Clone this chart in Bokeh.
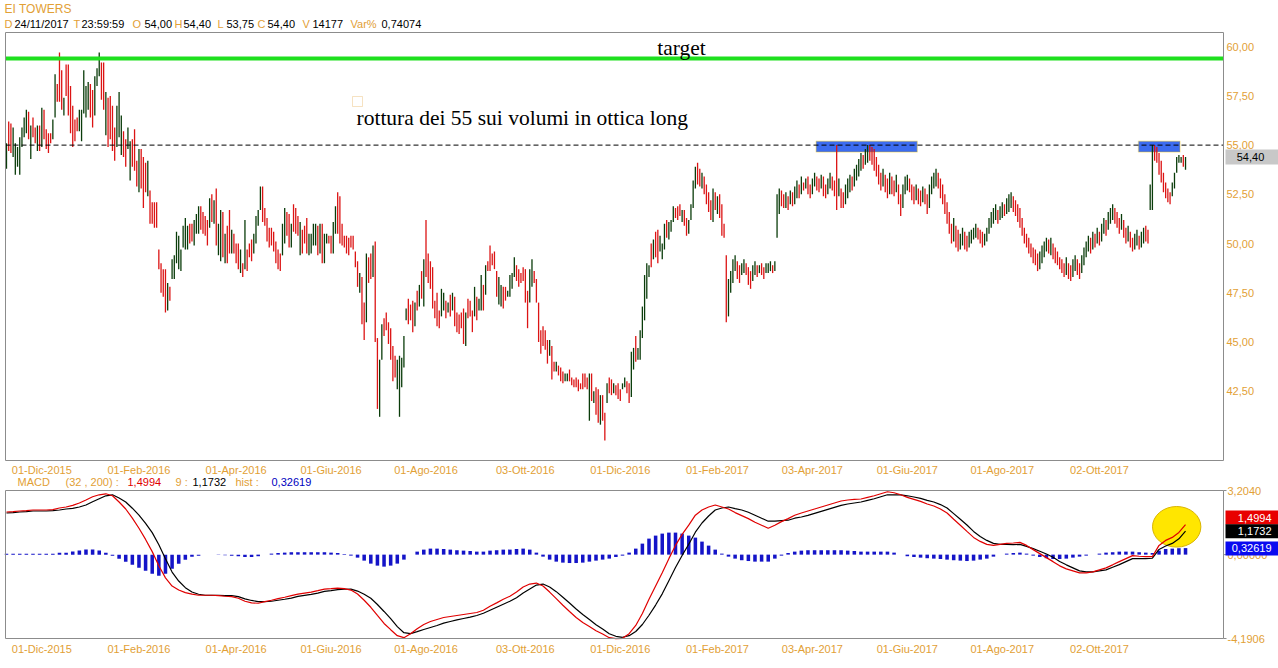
import numpy as np
import pandas as pd
from bokeh.plotting import figure
from bokeh.layouts import column
from bokeh.models import ColumnDataSource, Label, BoxAnnotation, Range1d
from bokeh.core.properties import value
from bokeh.embed import file_html
from bokeh.resources import INLINE

# ---------------- header values ----------------
SYMBOL = "EI TOWERS"
LAST_DATE = "24/11/2017"
LAST_TIME = "23:59:59"
LAST_OPEN, LAST_HIGH, LAST_LOW, LAST_CLOSE = 54.00, 54.40, 53.75, 54.40
LAST_VOLUME = 14177
LAST_VAR_PCT = 0.74074

TARGET_LEVEL = 59.4
BREAKOUT_LEVEL = 55.0
ZONE_BOTTOM, ZONE_TOP = 54.65, 55.2
blue_zones = [("2017-04-05", "2017-06-07"), ("2017-10-26", "2017-11-21")]

# ---------------- daily bars (high / low / direction R=down G=up) ----------------
high_1 = [55.1,56.2,56.1,55.9,55.1,54.9,55.4,55.9,56.4,56.8,
          56.7,56.0,56.4,55.9,56.0,56.0,56.9,56.8,55.8,55.6,
          55.6,56.3,58.6,58.1,59.7,58.8,57.4,59.1,59.1,58.0,
          57.0,56.3,56.4,56.8,56.8,58.8,58.0,58.2,58.1,57.8,
          58.5,58.9,59.7,59.2,59.2,57.7,57.4,57.5,57.0,55.9,
          57.0,57.7,56.5,55.7,55.3,55.9,55.2,55.3,55.8,54.2,
          54.8,54.8,54.4,54.1,54.2,52.7,52.1,52.1,52.1,49.7,
          49.0,48.7,48.7,48.0,47.8,49.2,49.4,50.6,50.4,49.7,
          50.9]
low_1 = [53.8,54.7,54.6,54.4,53.5,53.9,53.5,54.9,55.4,55.6,
         55.3,54.3,55.4,55.1,54.7,54.7,54.9,55.3,54.8,54.6,
         55.1,55.3,56.4,57.2,57.2,56.8,56.5,57.5,56.5,55.6,
         54.9,55.2,55.7,55.7,55.2,56.6,56.4,56.8,56.4,55.9,
         56.5,58.0,58.5,57.3,56.8,55.5,54.9,55.3,54.7,54.2,
         54.9,55.4,54.5,54.4,53.9,54.8,53.2,53.9,53.7,52.9,
         52.6,52.8,51.8,52.6,52.4,51.0,51.0,50.8,50.8,48.7,
         47.5,47.3,46.5,46.6,47.1,48.2,48.2,49.0,48.7,48.6,
         49.8]
dir_1 = "GRRGGGGGGG" "RGRRGRGRRR" "RGGRRRGRRR" "RRRGGGGGRR" "GGGRRGRRRR" \
        "GGGRRGGRRR" "GRRRGRRRRR" "RRRGRGGGGG" "G"

high_2 = [51.3,50.9,51.0,51.0,51.2,51.5,51.9,51.9,51.6,51.4,
          51.2,52.3,52.5,52.2,52.8,51.0,51.7,51.6,50.5,50.9,
          51.7,50.7,50.5,50.0,50.0,49.7,49.0,51.2,49.7,50.0,
          50.2,50.5,51.4,51.7,52.9,52.9,51.8,51.3,50.8,50.8,
          50.6,50.1,49.7,49.5,51.0,51.8,51.6,51.5,51.0,52.0,
          51.8,51.4,51.1,50.7,50.9,51.3,50.5,50.5,51.0,51.0,
          50.9,51.0,51.0,50.5,50.5,50.4,50.4,51.1,51.9,52.6,
          52.4,51.0]
low_2 = [49.7,49.7,50.0,50.1,49.9,50.5,50.5,50.7,50.5,50.4,
         49.9,50.8,51.1,51.0,49.9,49.4,49.1,49.3,49.0,49.0,
         49.5,49.5,49.5,49.0,48.7,48.5,48.3,48.7,48.6,49.3,
         49.1,49.5,50.0,50.9,51.7,51.1,50.9,50.1,49.8,49.9,
         49.6,49.0,48.7,48.6,49.4,50.0,50.4,49.8,49.8,50.6,
         50.5,50.4,49.4,49.5,50.0,49.5,49.4,49.5,49.9,49.9,
         49.4,49.5,49.0,49.0,50.0,50.0,49.5,49.5,50.5,50.5,
         50.0,49.9]
dir_2 = "GGRRGGGRRR" "RGRGRGGRGR" "RGRRRGRGRR" "RGGGGRRRRR" "RRRRGGRRGR" \
        "RRGRRRGGGG" "RGRGGRRGGR" "RR"

high_3 = [50.4,50.4,50.3,50.4,50.4,49.6,49.1,48.5,48.3,47.0,
          49.5,49.3,49.5,49.9,50.1,45.2,44.1,45.9,46.2,46.5,
          46.0,45.7,44.8,44.3,44.1,44.3,44.2,45.3,46.7,47.2,
          46.9,47.1,47.0,47.6,47.9,48.6,49.2,51.2,49.5,49.1,
          48.8,47.1,47.5,46.6,47.7,47.5,47.1,47.0,47.4,47.5,
          47.3,46.5,46.4,46.5,46.7,46.5,47.2,47.1,46.6,47.8,
          47.3,47.2,48.4,47.9,48.9,49.1,49.9,49.5,49.6,48.6,
          48.3,47.9,47.8,47.8,47.6,48.4]
low_3 = [49.8,49.5,49.4,49.8,49.7,48.8,47.8,47.5,45.9,45.1,
         46.0,48.0,48.2,48.3,45.0,41.6,41.2,44.1,45.3,45.6,
         44.9,44.1,43.0,43.2,42.6,41.2,42.7,43.7,46.1,45.9,
         46.1,45.5,45.8,46.6,46.8,47.2,46.8,48.3,48.0,47.7,
         46.7,46.2,45.8,45.7,46.3,46.6,46.2,46.5,46.3,46.6,
         45.8,45.5,45.4,45.7,44.9,44.8,46.2,46.3,45.5,46.3,
         46.1,46.6,46.6,46.6,47.4,48.6,48.6,48.9,48.7,47.3,
         46.9,46.8,46.7,47.1,47.3,47.3]
dir_3 = "RRRRRRRGRR" "GRRGRRGGRR" "RRRRGGGGGR" "RRGRGRGRRR" "RRRRGGRGRG" \
        "RRRRRGRRRG" "RGGRGRRRRR" "GGRRGG"

high_4 = [48.5,49.3,48.9,48.7,48.5,48.8,48.7,47.6,48.7,49.2,
          48.6,48.2,47.0,45.6,45.8,45.6,45.1,45.1,44.8,44.0,
          44.0,43.8,43.7,43.5,43.4,43.4,43.6,43.2,43.1,43.2,
          43.1,42.9,43.4,43.4,43.2,43.4,43.4,42.5,42.7,42.6,
          42.3,42.3,41.4,42.9,43.2,43.1,42.9,42.8,42.9,42.6,
          42.9,43.2,43.0,42.9,44.5,44.7,45.3,44.7,45.6,46.8,
          48.4,49.0,48.9,50.0,50.2,50.6,50.7,50.4,50.0,51.0,
          51.2,51.1,51.2,51.9,51.8,51.9,52.0,51.7,51.7,51.3,
          51.2]
low_4 = [47.7,48.3,48.1,47.8,48.0,48.1,47.0,45.7,47.0,47.8,
         48.0,47.0,45.0,44.4,44.8,44.6,43.9,44.3,43.1,43.5,
         43.5,43.3,43.0,42.9,43.0,43.0,43.0,42.8,42.7,42.7,
         42.5,42.6,42.6,42.7,42.6,41.0,42.0,41.9,41.3,40.9,
         40.8,41.0,40.0,41.9,42.4,42.3,42.4,42.3,42.1,42.0,
         42.6,42.7,42.4,41.9,42.2,43.6,44.0,44.1,44.1,45.2,
         46.1,47.2,48.3,48.8,49.2,49.3,49.0,49.6,49.2,49.7,
         50.3,50.2,50.6,51.1,51.3,51.2,51.4,51.1,50.9,50.4,
         50.5]
dir_4 = "GGRRRRRRGG" "RRRRRRRGRR" "GRRRGGRRRR" "RRRRRGRGRR" "GRRGRRGRRR" \
        "GGRRGGRGGG" "GGGRGRRGGG" "RGGGRRRGRR" "G"

high_5 = [52.0,53.2,53.9,54.1,53.8,53.6,53.4,53.0,52.6,52.2,
          52.8,52.6,52.4,52.5,52.0,51.0,49.4,48.2,48.6,49.2,
          49.4,49.1,48.9,49.0,49.2,49.0,48.8,48.6,48.9,49.1,
          48.9,48.9,49.0,48.8,49.0,49.0,49.1,48.9,49.1,52.5,
          52.8,52.7,52.5,52.6,52.4,52.7,52.6,52.9,53.2,53.0,
          53.4,53.1,53.3,53.4,53.0,53.3,53.6,53.4,53.3,53.5,
          53.4,53.0,53.3,53.6,53.4,53.2,55.0,53.3,52.8,52.6,
          53.0,53.3,53.5,53.4,53.8,54.0,54.3,54.6,54.5,54.8,
          55.0,55.0,54.9,54.8,54.4,54.0,53.6,53.8,53.5,53.3,
          53.6,53.4,53.2,53.5,53.0,52.5,53.0,53.4,53.5,53.3,
          53.0,52.9,53.0,52.8,52.7,52.9,52.8,52.5,53.0,53.4,
          53.6,53.8,53.6,53.3,53.0,52.5,52.1,51.6,51.0,51.3,
          50.9,50.7,50.5,50.8,50.6,50.4,50.6,50.7,50.8,51.0,
          50.8,50.7,50.6,50.5,50.8,51.3,51.6,51.8,52.0,51.7,
          51.9,52.1,52.0,52.3,52.5,52.6,52.4,52.2,52.0,51.8,
          51.3,50.8,50.5,50.3,50.0,49.8,49.7,49.5,49.6,49.9,
          50.1,50.3,50.2,50.3,50.0,49.8,49.6,49.3,49.2,49.0,
          49.3,49.0,48.9,49.2,49.4,49.2,49.0,49.4,49.8,50.1,
          50.4,50.3,50.6,50.5,50.8,50.6,51.0,51.3,51.2,51.6,
          51.8,52.0,51.8,51.6,51.3,51.5,51.2,50.8,50.9,50.6,
          50.3,50.5,50.7,50.4,50.6,50.8,50.9,50.7,53.0,55.0,
          55.0,54.9,54.6,54.2,53.6,53.1,52.8,52.6,53.1,53.6,
          54.4,54.5,54.4,54.5,54.4]
low_5 = [51.2,51.8,52.8,53.0,52.9,52.8,52.5,52.0,51.6,51.2,
         51.1,51.7,51.5,51.3,50.4,50.3,46.0,46.3,47.5,48.0,
         48.6,48.2,48.0,48.4,48.5,48.4,47.9,47.7,48.1,48.4,
         48.3,48.5,48.4,48.2,48.5,48.5,48.6,48.5,48.6,50.3,
         51.5,51.9,51.8,51.8,51.7,52.0,51.9,52.0,52.3,52.3,
         52.5,52.7,52.8,52.5,52.3,52.5,52.9,52.7,52.6,52.8,
         52.4,52.3,52.5,52.8,52.7,52.4,51.7,52.4,51.8,51.8,
         52.0,52.3,52.6,52.7,52.9,53.2,53.4,53.7,53.8,54.0,
         54.1,54.2,54.0,53.7,53.4,53.0,52.7,52.9,52.6,52.3,
         52.5,52.5,52.4,52.6,52.0,51.4,51.8,52.5,52.7,52.6,
         52.2,52.0,52.2,52.0,51.9,52.1,52.0,51.5,51.8,52.5,
         52.8,52.9,52.8,52.3,52.0,51.5,51.0,50.5,50.0,50.1,
         49.8,49.6,49.7,49.9,49.7,49.6,49.8,50.0,50.2,50.3,
         50.2,50.0,49.8,49.9,50.1,50.5,50.8,51.0,51.2,51.0,
         51.2,51.3,51.4,51.5,51.6,51.8,51.6,51.4,51.1,50.8,
         50.4,50.0,49.8,49.5,49.3,49.0,48.9,48.6,48.7,49.0,
         49.3,49.6,49.5,49.4,49.2,49.0,48.9,48.7,48.5,48.3,
         48.4,48.2,48.1,48.3,48.6,48.4,48.2,48.5,48.9,49.3,
         49.6,49.5,49.7,49.8,50.0,49.9,50.1,50.5,50.4,50.7,
         51.0,51.2,51.0,50.8,50.5,50.7,50.3,50.0,50.1,49.8,
         49.6,49.7,49.9,49.7,49.8,50.0,50.1,50.0,51.7,51.7,
         54.2,54.1,53.5,53.1,52.6,52.3,52.1,52.0,52.4,52.8,
         53.6,54.1,54.1,53.9,53.75]
dir_5 = "GGGRRGRRRR" "GRGRRRRGGG" "GRRGGRRRGG" "RGRRGGGRGG" "GRRGRGRGGR" \
        "GRGRRGGRRG" "RRGGRRRGRR" "GGGRGGGGRG" "GRRRRRRGRR" "GRRGRRGGGR" \
        "RRGRRGRRGG" "GGRRRRRRRG" "RRGGRRGGGG" "RRRGGGGGGR" "GGRGGGRRRR" \
        "RRRRRRRRGG" "GGRGRRRRRR" "GRRGGRRGGG" "GRGRGRGGRG" "GGRRRGRRGR" \
        "RGGRGGRRGG" "RRRRRRRRGG" "GGGRG"

# ---------------- MACD (32,200,9), read every MACD_STEP bars ----------------
MACD_FAST, MACD_SLOW, MACD_SIGNAL = 32, 200, 9
MACD_LAST, SIGNAL_LAST, HIST_LAST = 1.4994, 1.1732, 0.32619
MACD_TOP, MACD_BOTTOM = 3.2040, -4.1906
MACD_STEP = 3
macd_line = [2.13,2.15,2.18,2.20,2.23,2.23,2.23,2.25,2.33,2.38,
             2.46,2.58,2.73,2.89,2.99,3.04,2.94,2.63,2.28,1.82,
             1.32,0.76,0.15,-0.56,-1.16,-1.57,-1.77,-1.90,-1.97,-2.03,
             -2.03,-2.03,-2.05,-2.08,-2.10,-2.18,-2.33,-2.41,-2.43,-2.35,
             -2.28,-2.20,-2.13,-2.05,-1.97,-1.92,-1.87,-1.80,-1.72,-1.70,
             -1.67,-1.70,-1.77,-1.97,-2.28,-2.63,-3.04,-3.44,-3.75,-4.05,
             -4.15,-3.95,-3.70,-3.49,-3.34,-3.24,-3.14,-3.09,-3.04,-2.99,
             -2.94,-2.89,-2.78,-2.58,-2.41,-2.23,-2.08,-1.87,-1.62,-1.47,
             -1.42,-1.57,-1.87,-2.20,-2.53,-2.84,-3.14,-3.39,-3.59,-3.80,
             -3.97,-4.15,-4.20,-4.18,-3.95,-3.54,-2.94,-2.23,-1.57,-0.91,
             -0.20,0.46,1.01,1.47,1.97,2.23,2.38,2.48,2.38,2.28,
             2.10,1.95,1.80,1.62,1.47,1.32,1.47,1.65,1.80,1.97,
             2.08,2.18,2.28,2.38,2.48,2.58,2.68,2.73,2.76,2.78,
             2.86,2.94,3.04,3.14,3.09,2.99,2.86,2.76,2.66,2.53,
             2.43,2.28,2.08,1.77,1.47,1.16,0.86,0.66,0.51,0.46,
             0.51,0.56,0.58,0.61,0.46,0.25,0.05,-0.15,-0.35,-0.56,
             -0.71,-0.81,-0.91,-0.91,-0.86,-0.76,-0.66,-0.51,-0.35,-0.20,
             -0.05,-0.08,-0.10,-0.10,0.46,0.71,0.86,1.11,MACD_LAST]
macd_hist = [0.05,0.05,0.05,0.05,0.05,0.05,0.05,0.05,0.10,0.10,
             0.15,0.20,0.25,0.25,0.20,0.10,-0.05,-0.20,-0.35,-0.50,
             -0.65,-0.80,-0.95,-1.05,-0.95,-0.70,-0.45,-0.25,-0.10,-0.05,
             0.00,0.00,-0.02,-0.03,-0.05,-0.08,-0.12,-0.12,-0.08,0.00,
             0.05,0.08,0.10,0.12,0.12,0.12,0.12,0.12,0.12,0.10,
             0.08,0.03,-0.05,-0.15,-0.30,-0.45,-0.55,-0.60,-0.55,-0.45,
             -0.25,0.00,0.15,0.25,0.30,0.30,0.28,0.25,0.22,0.20,
             0.18,0.15,0.15,0.20,0.22,0.25,0.25,0.28,0.30,0.25,
             0.10,-0.10,-0.25,-0.35,-0.40,-0.42,-0.42,-0.40,-0.35,-0.30,
             -0.25,-0.20,-0.12,-0.05,0.10,0.30,0.55,0.80,0.95,1.05,
             1.10,1.10,1.05,0.95,0.85,0.65,0.45,0.25,0.05,-0.10,
             -0.20,-0.28,-0.32,-0.35,-0.35,-0.35,-0.20,-0.05,0.08,0.15,
             0.20,0.22,0.22,0.22,0.22,0.22,0.22,0.20,0.18,0.15,
             0.15,0.15,0.15,0.15,0.10,0.00,-0.08,-0.12,-0.15,-0.18,
             -0.20,-0.22,-0.25,-0.28,-0.30,-0.32,-0.30,-0.25,-0.20,-0.10,
             0.00,0.05,0.08,0.10,0.05,-0.05,-0.12,-0.18,-0.22,-0.22,
             -0.20,-0.15,-0.10,-0.05,0.00,0.05,0.10,0.12,0.15,0.15,
             0.15,0.12,0.10,0.08,0.20,0.28,0.30,0.32,HIST_LAST]
HIGHLIGHT_DATE, HIGHLIGHT_Y, HIGHLIGHT_W, HIGHLIGHT_H = "2017-11-20", 1.39, 21.9, 2.03

tick_dates = ["2015-12-01", "2016-02-01", "2016-04-01", "2016-06-01", "2016-08-01", "2016-10-03",
              "2016-12-01", "2017-02-01", "2017-04-03", "2017-06-01", "2017-08-01", "2017-10-02"]
IT_MONTHS = ["Gen", "Feb", "Mar", "Apr", "Mag", "Giu", "Lug", "Ago", "Set", "Ott", "Nov", "Dic"]
price_ticks = [42.5, 45.0, 47.5, 50.0, 52.5, 55.0, 57.5, 60.0]

# ---------------- build ----------------
bar_high = high_1 + high_2 + high_3 + high_4 + high_5
bar_low = low_1 + low_2 + low_3 + low_4 + low_5
bar_dir = dir_1 + dir_2 + dir_3 + dir_4 + dir_5
n = min(len(bar_high), len(bar_low), len(bar_dir))
dates = pd.bdate_range(end="2017-11-24", periods=n)
idx = np.arange(n)


def date_index(d):
    return int(min(dates.searchsorted(pd.Timestamp(d)), n - 1))


def fmt(v, d):
    return f"{v:.{d}f}".replace(".", ",")


ORANGE = "#E2A035"
FONT = "Liberation Sans"
RED = "#DC1414"
DKGREEN = "#0A3C0A"
FRAME_GRAY = "#8C8C8C"
W = 1278                 # canvas width
PANEL_W = 1218
LEFT_PAD, RIGHT_PAD = 5, 55

# visible window of the chart panels
X0, X1 = -0.45, 551.2
Y0, Y1 = 38.98, 60.72
PXX = PANEL_W / (X1 - X0)
xr = Range1d(X0 - LEFT_PAD / PXX, X1 + RIGHT_PAD / PXX)

H1, TOP1, PANEL_H1 = 476, 32, 428
PXY = PANEL_H1 / (Y1 - Y0)
yr1 = Range1d(Y0 - (H1 - TOP1 - PANEL_H1) / PXY, Y1 + TOP1 / PXY)

H2, TOP2, PANEL_H2 = 190, 14, 148
PXM = PANEL_H2 / (MACD_TOP - MACD_BOTTOM)
yr2 = Range1d(MACD_BOTTOM - (H2 - TOP2 - PANEL_H2) / PXM, MACD_TOP + TOP2 / PXM)

tick_idx = [date_index(d) for d in tick_dates]
tick_text = []
for d in tick_dates:
    t = pd.Timestamp(d)
    tick_text.append(f"{t.day:02d}-{IT_MONTHS[t.month - 1]}-{t.year}")


def make_fig(h, yr):
    f = figure(width=W, height=h, x_range=xr, y_range=yr, output_backend="svg", toolbar_location=None,
               min_border=0, x_axis_type=None, y_axis_type=None)
    f.grid.visible = False
    f.outline_line_color = None
    f.background_fill_color = "white"
    f.border_fill_color = "white"
    return f


def label(fig, top_page, h, s, px, py, color, size="11px", font=FONT, align="left", baseline="middle"):
    fig.add_layout(Label(x=px, y=top_page + h - py, x_units="screen", y_units="screen",
                         text=s, text_color=color, text_font=font, text_font_size=size,
                         text_align=align, text_baseline=baseline))


def date_labels(fig, y):
    fig.text(x=tick_idx, y=[y] * len(tick_idx), text=tick_text, text_color=ORANGE,
             text_font=value(FONT), text_font_size="11px", text_align="center", text_baseline="middle")


# ======================= price panel =======================
p = make_fig(H1, yr1)

for d0, d1 in blue_zones:
    p.add_layout(BoxAnnotation(left=date_index(d0) - 0.3, right=date_index(d1) + 0.5,
                               bottom=ZONE_BOTTOM, top=ZONE_TOP, fill_color="#3C6CF0", fill_alpha=1.0,
                               line_color="#F2C200", line_width=1.5, level="underlay"))

colors = [RED if c == "R" else DKGREEN for c in bar_dir[:n]]
src = ColumnDataSource(dict(x=idx, hi=bar_high[:n], lo=bar_low[:n], color=colors))
p.segment(x0="x", y0="lo", x1="x", y1="hi", line_color="color", line_width=1.3, source=src)

# target and breakout levels across the panel
p.segment(x0=[X0], y0=[TARGET_LEVEL], x1=[X1], y1=[TARGET_LEVEL], line_color="#1EE01E", line_width=4)
p.segment(x0=[X0], y0=[BREAKOUT_LEVEL], x1=[X1], y1=[BREAKOUT_LEVEL], line_color="black",
          line_width=1, line_dash="5 3")

# panel frame
p.quad(left=[X0], right=[X1], bottom=[Y0], top=[Y1], fill_alpha=0, line_color=FRAME_GRAY, line_width=1)

# price scale labels
p.text(x=[X1 + 3 / PXX] * len(price_ticks), y=price_ticks, text=[fmt(v, 2) for v in price_ticks],
       text_color=ORANGE, text_font=value(FONT), text_font_size="11px", text_align="left",
       text_baseline="middle")
date_labels(p, Y0 - 9 / PXY)

# last price tag
p.add_layout(BoxAnnotation(left=X1 + 2 / PXX, right=X1 + 60 / PXX, bottom=LAST_CLOSE - 7.5 / PXY,
                           top=LAST_CLOSE + 7.5 / PXY, fill_color="#C8C8C8", fill_alpha=1.0, line_color=None))
p.add_layout(Label(x=X1 + 27 / PXX, y=LAST_CLOSE, text=fmt(LAST_CLOSE, 2), text_color="black",
                   text_font=FONT, text_font_size="11px", text_align="center", text_baseline="middle"))

# annotations
label(p, 0, H1, "target", 681, 47, "black", size="21.5px", font="Liberation Serif", align="center")
label(p, 0, H1, "rottura dei 55 sui volumi in ottica long", 356, 117, "black", size="21.5px",
      font="Liberation Serif")
p.add_layout(BoxAnnotation(left=352, right=362, bottom=H1 - 106, top=H1 - 96, left_units="screen",
                           right_units="screen", bottom_units="screen", top_units="screen",
                           fill_color="white", fill_alpha=1.0, line_color=ORANGE, line_width=1))

# header
label(p, 0, H1, SYMBOL, 4, 8, ORANGE, size="12px")
header = [("D", ORANGE, 4), (LAST_DATE, "black", 14), ("T", ORANGE, 73), (LAST_TIME, "black", 81),
          ("O", ORANGE, 132), (fmt(LAST_OPEN, 2), "black", 144), ("H", ORANGE, 174),
          (fmt(LAST_HIGH, 2), "black", 183), ("L", ORANGE, 217), (fmt(LAST_LOW, 2), "black", 226),
          ("C", ORANGE, 257), (fmt(LAST_CLOSE, 2), "black", 267), ("V", ORANGE, 302),
          (str(LAST_VOLUME), "black", 312), ("Var%", ORANGE, 350), (fmt(LAST_VAR_PCT, 5), "black", 381)]
for s, c, x in header:
    label(p, 0, H1, s, x, 23, c)

# ======================= MACD panel =======================
q = make_fig(H2, yr2)
k_idx = np.arange(len(macd_line)) * MACD_STEP
macd_arr = np.array(macd_line)
hist_arr = np.array(macd_hist[:len(macd_line)])
signal_arr = macd_arr - hist_arr

q.ellipse(x=date_index(HIGHLIGHT_DATE), y=HIGHLIGHT_Y, width=HIGHLIGHT_W, height=HIGHLIGHT_H,
          fill_color="#FFE600", line_color="#D9B400", line_width=1)
q.vbar(x=k_idx, top=hist_arr, bottom=0, width=1.6, fill_color="#1414C8", line_color=None)
q.line(k_idx, signal_arr, line_color="black", line_width=1.2)
q.line(k_idx, macd_arr, line_color="#E00000", line_width=1.2)

q.quad(left=[X0], right=[X1], bottom=[MACD_BOTTOM], top=[MACD_TOP], fill_alpha=0,
       line_color=FRAME_GRAY, line_width=1)
scale_vals = [MACD_TOP, 0.0, MACD_BOTTOM]
q.segment(x0=[X1] * 3, y0=scale_vals, x1=[X1 + 3 / PXX] * 3, y1=scale_vals, line_color=FRAME_GRAY)
q.text(x=[X1 + 4 / PXX] * 3, y=scale_vals, text=[fmt(MACD_TOP, 4), fmt(0.0, 5), fmt(MACD_BOTTOM, 4)],
       text_color=ORANGE, text_font=value(FONT), text_font_size="11px", text_align="left",
       text_baseline="middle")
date_labels(q, MACD_BOTTOM - 10 / PXM)

tag_h = 14 / PXM
tags = [(MACD_LAST, MACD_LAST + tag_h, fmt(MACD_LAST, 4), "#E80000"),
        (SIGNAL_LAST - tag_h / 2, SIGNAL_LAST + tag_h / 2, fmt(SIGNAL_LAST, 4), "black"),
        (HIST_LAST - tag_h / 2 - 0.02, HIST_LAST + tag_h / 2 - 0.02, fmt(HIST_LAST, 5), "#0A0AF0")]
for b, t, s, bg in tags:
    q.add_layout(BoxAnnotation(left=X1 + 2 / PXX, right=X1 + 60 / PXX, bottom=b, top=t,
                               fill_color=bg, fill_alpha=1.0, line_color=None))
    q.add_layout(Label(x=X1 + 48 / PXX, y=(b + t) / 2, text=s, text_color="white", text_font=FONT,
                       text_font_size="11px", text_align="right", text_baseline="middle"))

macd_head = [("MACD", ORANGE, 17), (f"({MACD_FAST} , {MACD_SLOW}) :", ORANGE, 65),
             (fmt(MACD_LAST, 4), "#E00000", 127), (f"{MACD_SIGNAL} :", ORANGE, 175),
             (fmt(SIGNAL_LAST, 4), "black", 192), ("hist :", ORANGE, 235),
             (fmt(HIST_LAST, 5), "#0000C0", 271)]
for s, c, x in macd_head:
    label(q, H1, H2, s, x, 481, c)

layout = column(p, q)
open("out.html", "w").write(file_html(layout, INLINE))
